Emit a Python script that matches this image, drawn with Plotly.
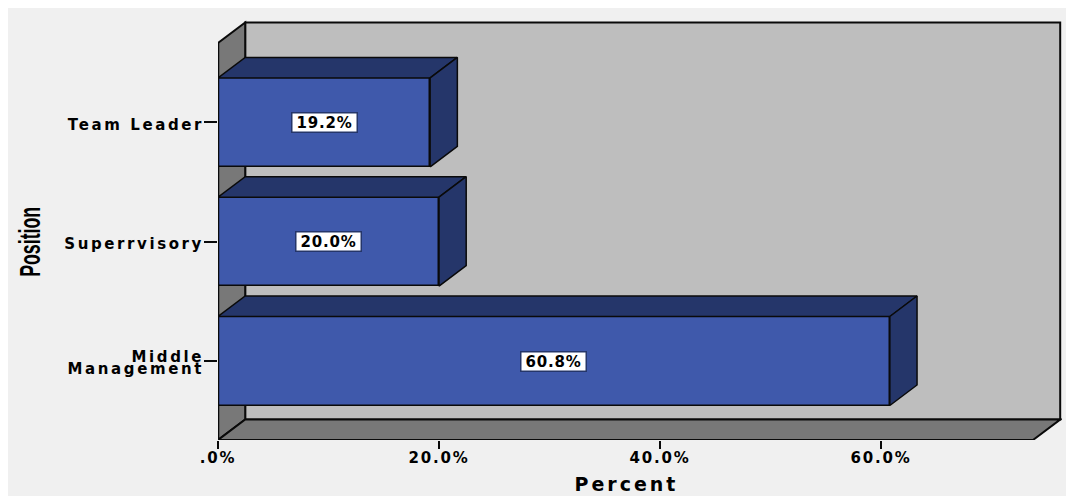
import plotly.graph_objects as go

categories = ["Middle<br>Management", "Superrvisory", "Team Leader"]
percent = [60.8, 20.0, 19.2]
value_labels = ["60.8%", "20.0%", "19.2%"]
x_ticks = [0, 20, 40, 60]
x_tick_labels = [".0%", "20.0%", "40.0%", "60.0%"]

# the page adds an 8 px body margin, so figure pixels = reference pixels - 8
OFF = 8
PX_X = 11.05
PX_Y = 119.3
L, R, T, B = 218 - OFF, 1062 - OFF, 20 - OFF, 440 - OFF
Y0 = 361 - OFF
x_range = [0, (R - L) / PX_X]
y_low = -(B - Y0) / PX_Y
y_high = (Y0 - T) / PX_Y
DX = 27.2 / PX_X
DY = 20.5 / PX_Y
HALF = 44.5 / PX_Y
FLOOR_END = (1033 - OFF - L) / PX_X
WALL_TOP = (Y0 - (43 - OFF)) / PX_Y

BAR = "#3F59AB"
DARK = "#25366A"
WALL = "#BEBEBE"
SIDE = "#787878"
PANEL = "#F0F0F0"
INK = "#0A0A0A"
FONT = "DejaVu Sans, sans-serif"

ypos = list(range(len(categories)))


def poly(xs, ys, fill, w=2):
    path = "M " + " L ".join(f"{a},{b}" for a, b in zip(xs, ys)) + " Z"
    return dict(type="path", path=path, xref="x", yref="y", fillcolor=fill,
                line=dict(color=INK, width=w), layer="below")


shapes = [
    poly([DX, FLOOR_END + DX, FLOOR_END + DX, DX],
         [y_low + DY, y_low + DY, WALL_TOP + DY, WALL_TOP + DY], WALL),
    poly([0, DX, DX, 0], [y_low, y_low + DY, WALL_TOP + DY, WALL_TOP], SIDE),
    poly([0, FLOOR_END, FLOOR_END + DX, DX], [y_low, y_low, y_low + DY, y_low + DY], SIDE),
]

fig = go.Figure()
fig.add_trace(go.Bar(
    y=ypos, x=percent, orientation="h", width=2 * HALF,
    marker=dict(color=BAR, line=dict(color=INK, width=1.5)), hoverinfo="skip",
))
for yi, v in zip(ypos, percent):
    fig.add_trace(go.Scatter(
        x=[0, v, v + DX, DX, 0], y=[yi + HALF, yi + HALF, yi + HALF + DY, yi + HALF + DY, yi + HALF],
        mode="lines", fill="toself", fillcolor=DARK, line=dict(color=INK, width=1.5), hoverinfo="skip",
    ))
    fig.add_trace(go.Scatter(
        x=[v, v + DX, v + DX, v, v], y=[yi - HALF, yi - HALF + DY, yi + HALF + DY, yi + HALF, yi - HALF],
        mode="lines", fill="toself", fillcolor=DARK, line=dict(color=INK, width=1.5), hoverinfo="skip",
    ))
fig.add_trace(go.Scatter(x=[0, 0], y=[y_low, WALL_TOP], mode="lines", cliponaxis=False,
                         line=dict(color=INK, width=2.5), hoverinfo="skip"))

for yi, v, t in zip(ypos, percent, value_labels):
    fig.add_annotation(x=v / 2, y=yi, text=f"<b>{t}</b>", showarrow=False, width=64, height=18,
                       font=dict(family=FONT, size=15, color="#000"), bgcolor="#fff",
                       bordercolor=DARK, borderwidth=1.5, borderpad=0)

fig.add_annotation(xref="paper", yref="paper", x=(30 - 218) / (R - L), y=(440 - 242) / (B - T),
                   xanchor="center", yanchor="middle",
                   text="<b>Position</b>", textangle=-90, showarrow=False,
                   font=dict(family="Liberation Sans", size=29, color="#000"))
fig.add_annotation(xref="paper", yref="paper", x=(626 - 218) / (R - L), y=(440 - 484) / (B - T),
                   xanchor="center", yanchor="middle",
                   text="<b>Percent</b>", showarrow=False,
                   font=dict(family=FONT, size=19, color="#000"))

fig.update_layout(
    width=1074 - OFF, height=496 - OFF, autosize=False, showlegend=False, bargap=0,
    margin=dict(l=L, r=1074 - OFF - R, t=T, b=496 - OFF - B, pad=0),
    paper_bgcolor=PANEL, plot_bgcolor="rgba(0,0,0,0)", shapes=shapes,
    xaxis=dict(range=x_range, tickmode="array", tickvals=x_ticks, ticktext=[f"<b>{s}</b>" for s in x_tick_labels],
               ticks="outside", ticklen=8, tickwidth=2, tickcolor=INK, showgrid=False, zeroline=False,
               showline=False, ticklabelstandoff=-4, tickfont=dict(family=FONT, size=15, color="#000")),
    yaxis=dict(range=[y_low, y_high], tickmode="array", tickvals=ypos, ticktext=[f"<b>{s}</b>" for s in categories],
               ticks="outside", ticklen=13, tickwidth=1.5, tickcolor=INK, showgrid=False, zeroline=False,
               showline=False, ticklabelstandoff=-3, ticklabelshift=2, tickfont=dict(family=FONT, size=15, color="#000")),
)

finish_js = """
var st = document.createElement('style');
st.textContent = '.ytick text{letter-spacing:2.6px} .xtick text{letter-spacing:1.8px}';
document.head.appendChild(st);
document.querySelectorAll('.annotation-text').forEach(function (t) {
  var s = t.textContent;
  if (s === 'Percent') t.style.letterSpacing = '3px';
  else if (s.indexOf('%') >= 0) t.style.letterSpacing = '0.8px';
  else if (s === 'Position') {
    t.setAttribute('textLength', '70');
    t.setAttribute('lengthAdjust', 'spacingAndGlyphs');
  }
});
document.querySelectorAll('.ytick text').forEach(function (t) {
  var lines = t.querySelectorAll('tspan.line');
  if (lines.length === 2) {
    lines[1].setAttribute('dy', '12.5px');
    lines.forEach(function (l) {
      l.setAttribute('y', parseFloat(l.getAttribute('y')) + 3);
    });
  }
});
"""
fig.write_html("out.html", post_script=finish_js)
